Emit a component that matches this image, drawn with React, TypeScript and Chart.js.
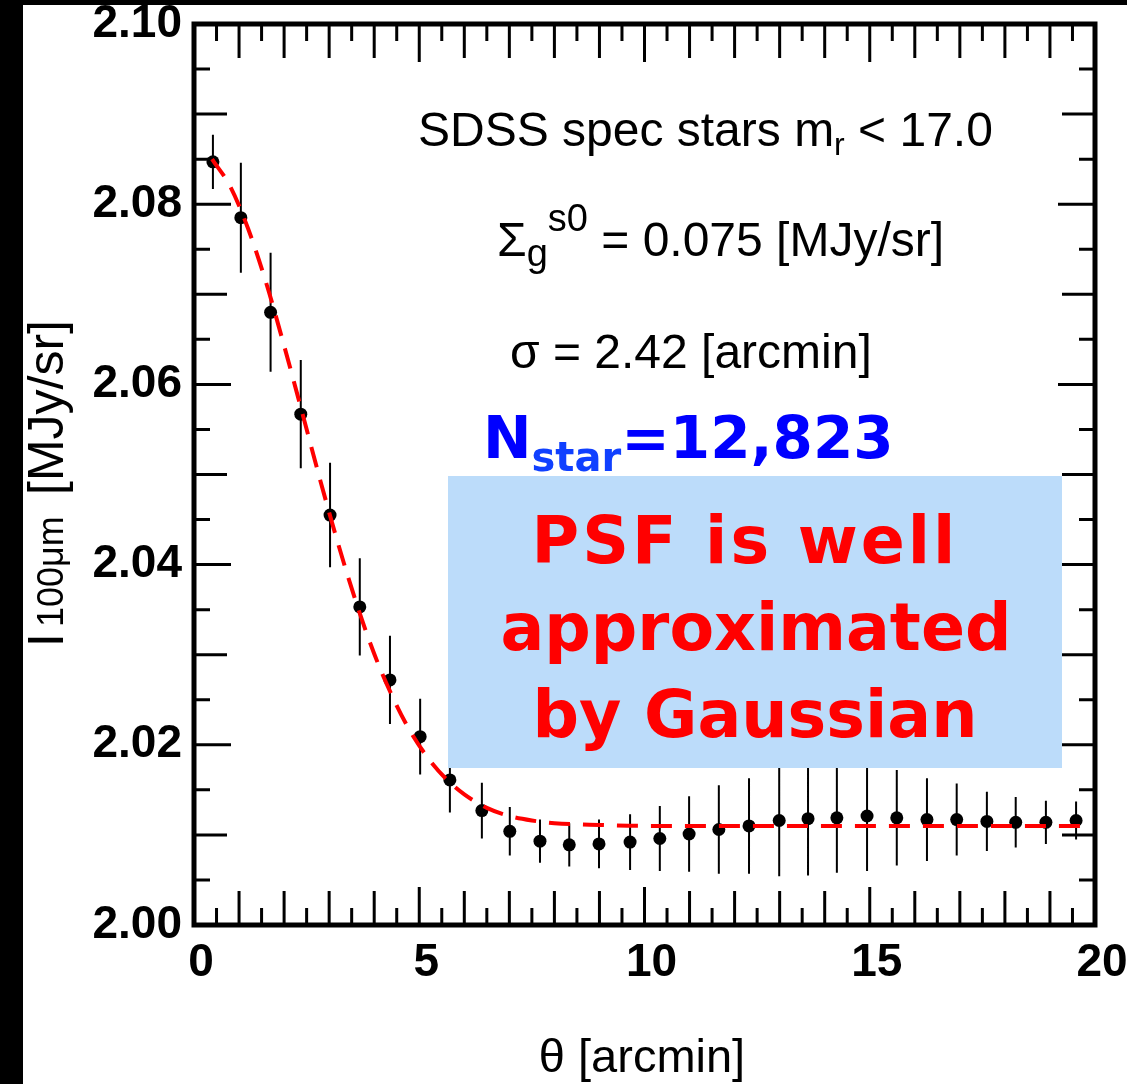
import React, { useEffect, useRef } from "react";
import { Chart, registerables } from "chart.js";

Chart.register(...registerables);

// theta [arcmin] of each bin
const thetaValues = [
  0.42, 1.04, 1.7, 2.37, 3.02, 3.68, 4.35, 5.02, 5.68, 6.39,
  7.01, 7.68, 8.33, 8.99, 9.68, 10.34, 10.99, 11.65, 12.32, 12.99,
  13.63, 14.27, 14.94, 15.6, 16.27, 16.93, 17.6, 18.24, 18.91, 19.58,
];
// I_100um [MJy/sr]
const intensityValues = [
  2.0847, 2.0785, 2.068, 2.0567, 2.0455, 2.0353, 2.0272, 2.0209, 2.0161, 2.0127,
  2.0104, 2.0093, 2.0089, 2.009, 2.0092, 2.0096, 2.0101, 2.0106, 2.011, 2.0116,
  2.0118, 2.0119, 2.0121, 2.0119, 2.0117, 2.0117, 2.0115, 2.0114, 2.0114, 2.0116,
];
// error bar half-lengths
const intensityErrors = [
  0.003, 0.0061, 0.0066, 0.006, 0.0058, 0.0054, 0.0049, 0.0042, 0.0036, 0.0031,
  0.0027, 0.0024, 0.0024, 0.0027, 0.0031, 0.0036, 0.0042, 0.0049, 0.0053, 0.0062,
  0.0063, 0.0061, 0.0061, 0.0053, 0.0046, 0.004, 0.0033, 0.0028, 0.0024, 0.0021,
];
// Gaussian fit curve (dashed red)
const fitTheta = [
  0.4, 0.8, 1.2, 1.6, 2.0, 2.4, 2.8, 3.2, 3.6, 4.0, 4.4, 4.8, 5.2, 5.6, 6.0,
  6.5, 7.0, 7.5, 8.0, 9.0, 10.0, 12.0, 14.0, 16.0, 18.0, 19.8,
];
const fitIntensity = [
  2.085, 2.082, 2.0773, 2.0713, 2.0643, 2.0569, 2.0494, 2.0423, 2.0358, 2.0301,
  2.0254, 2.0215, 2.0185, 2.0162, 2.0145, 2.013, 2.0121, 2.0116, 2.0113, 2.0111,
  2.011, 2.011, 2.011, 2.011, 2.011, 2.011,
];
const xTickLabels = ["0", "5", "10", "15", "20"];
const yTickLabels = ["2.00", "2.02", "2.04", "2.06", "2.08", "2.10"];

const HELV = '"Liberation Sans", Arial, Helvetica, sans-serif';
const VERD = '"DejaVu Sans", Verdana, sans-serif';

type Part = { t: string; size: number; dy?: number; bold?: boolean; family?: string; color?: string };

function drawParts(ctx: CanvasRenderingContext2D, x: number, y: number, parts: Part[]) {
  let cx = x;
  for (const p of parts) {
    ctx.font = `${p.bold ? "bold " : ""}${p.size}px ${p.family || HELV}`;
    ctx.fillStyle = p.color || "#000";
    ctx.textAlign = "left";
    ctx.textBaseline = "alphabetic";
    ctx.fillText(p.t, cx, y + (p.dy || 0));
    cx += ctx.measureText(p.t).width;
  }
}

const backgroundPlugin = {
  id: "bg",
  beforeDraw(chart: any) {
    const ctx = chart.ctx;
    ctx.save();
    ctx.fillStyle = "#fff";
    ctx.fillRect(0, 0, chart.width, chart.height);
    ctx.restore();
  },
};

const framePlugin = {
  id: "frame",
  beforeDatasetsDraw(chart: any) {
    const { ctx, chartArea: a, scales } = chart;
    const xs = scales.x;
    const ys = scales.y;
    ctx.save();
    ctx.strokeStyle = "#000";
    ctx.lineWidth = 3;
    ctx.beginPath();
    for (let i = 1; i < 40; i++) {
      const v = i * 0.5;
      const len = i % 10 === 0 ? 38 : i % 2 === 0 ? 34 : 17;
      const px = xs.getPixelForValue(v);
      ctx.moveTo(px, a.bottom);
      ctx.lineTo(px, a.bottom - len);
      ctx.moveTo(px, a.top);
      ctx.lineTo(px, a.top + len);
    }
    for (let i = 1; i < 20; i++) {
      const v = 2.0 + i * 0.005;
      const len = i % 4 === 0 ? 37 : i % 2 === 0 ? 33 : 16;
      const py = ys.getPixelForValue(v);
      ctx.moveTo(a.left, py);
      ctx.lineTo(a.left + len, py);
      ctx.moveTo(a.right, py);
      ctx.lineTo(a.right - len, py);
    }
    ctx.stroke();
    ctx.lineWidth = 5;
    ctx.strokeRect(a.left, a.top, a.right - a.left, a.bottom - a.top);
    ctx.restore();

    // error bars
    ctx.save();
    ctx.strokeStyle = "#000";
    ctx.lineWidth = 2;
    ctx.beginPath();
    thetaValues.forEach((t, i) => {
      const px = xs.getPixelForValue(t);
      ctx.moveTo(px, ys.getPixelForValue(intensityValues[i] + intensityErrors[i]));
      ctx.lineTo(px, ys.getPixelForValue(intensityValues[i] - intensityErrors[i]));
    });
    ctx.stroke();
    ctx.restore();
  },
};

const annotationPlugin = {
  id: "annot",
  afterDraw(chart: any) {
    const ctx = chart.ctx as CanvasRenderingContext2D;
    ctx.save();
    // text annotations
    drawParts(ctx, 418, 146, [
      { t: "SDSS spec stars m", size: 48 },
      { t: "r", size: 32, dy: 9 },
      { t: " < 17.0", size: 48 },
    ]);
    drawParts(ctx, 497, 256, [
      { t: "\u03A3", size: 48 },
      { t: "g", size: 38, dy: 10 },
      { t: "s0", size: 38, dy: -25 },
      { t: " = 0.075 [MJy/sr]", size: 48 },
    ]);
    drawParts(ctx, 510, 368, [{ t: "\u03C3 = 2.42 [arcmin]", size: 48 }]);
    drawParts(ctx, 483, 458, [
      { t: "N", size: 58, bold: true, family: VERD, color: "#0000ff" },
      { t: "star", size: 40, bold: true, family: VERD, color: "#1040ff", dy: 13 },
      { t: "=12,823", size: 58, bold: true, family: VERD, color: "#0000ff" },
    ]);

    // box
    ctx.fillStyle = "#bcdcfa";
    ctx.fillRect(448, 476, 614, 292);
    ctx.fillStyle = "#ff0000";
    ctx.font = `bold 65px ${VERD}`;
    ctx.textAlign = "center";
    ctx.textBaseline = "alphabetic";
    (ctx as any).letterSpacing = "3px";
    ctx.fillText("PSF is well", 745, 563);
    (ctx as any).letterSpacing = "0px";
    ctx.fillText("approximated", 756, 650);
    ctx.fillText("by Gaussian", 755, 737);

    // x title
    ctx.fillStyle = "#000";
    ctx.font = `47px ${HELV}`;
    ctx.textAlign = "center";
    ctx.fillText("\u03B8 [arcmin]", 642, 1072);

    // y title (rotated)
    ctx.save();
    ctx.translate(63, 647);
    ctx.rotate(-Math.PI / 2);
    ctx.textAlign = "left";
    ctx.font = `50px ${HELV}`;
    ctx.fillText("I", 0, 0);
    ctx.font = `36px ${HELV}`;
    ctx.fillText("100\u03BCm", 20, 0);
    ctx.textAlign = "right";
    ctx.font = `50px ${HELV}`;
    ctx.fillText("[MJy/sr]", 327, 0);
    ctx.restore();

    // black borders of the slide
    ctx.fillStyle = "#000";
    ctx.fillRect(0, 0, 23, chart.height);
    ctx.fillRect(0, 0, chart.width, 5);
    ctx.restore();
  },
};

export default function App() {
  const ref = useRef<HTMLCanvasElement | null>(null);
  useEffect(() => {
    if (!ref.current) return;
    const chart = new Chart(ref.current, {
      type: "scatter",
      data: {
        datasets: [
          {
            type: "line",
            label: "Gaussian fit",
            data: fitTheta.map((x, i) => ({ x, y: fitIntensity[i] })),
            borderColor: "#ff0000",
            borderWidth: 4,
            borderDash: [21, 13],
            pointRadius: 0,
            fill: false,
            cubicInterpolationMode: "monotone",
            order: 0,
          } as any,
          {
            label: "stars",
            data: thetaValues.map((x, i) => ({ x, y: intensityValues[i] })),
            backgroundColor: "#000",
            borderColor: "#000",
            pointRadius: 6.5,
            borderWidth: 0,
            order: 1,
          },
        ],
      },
      options: {
        animation: false,
        responsive: false,
        devicePixelRatio: 1,
        layout: { padding: { top: 24, right: 32, left: 0, bottom: 0 } },
        plugins: { legend: { display: false }, tooltip: { enabled: false } },
        scales: {
          x: {
            type: "linear",
            min: 0,
            max: 20,
            grid: { display: false, drawTicks: false },
            border: { display: false },
            ticks: {
              stepSize: 5,
              autoSkip: false,
              maxRotation: 0,
              padding: 11,
              labelOffset: 7,
              color: "#000",
              font: { family: HELV, size: 46, weight: "bold" },
              callback: (v: any) => {
                const idx = Math.round(Number(v) / 5);
                return xTickLabels[idx] ?? "";
              },
            },
            afterFit: (s: any) => {
              s.height = 159;
              s.paddingLeft = 0;
              s.paddingRight = 0;
            },
          },
          y: {
            type: "linear",
            min: 2.0,
            max: 2.1,
            grid: { display: false, drawTicks: false },
            border: { display: false },
            ticks: {
              stepSize: 0.02,
              autoSkip: false,
              padding: 12,
              color: "#000",
              font: { family: HELV, size: 46, weight: "bold", lineHeight: 0.4 },
              callback: (v: any) => {
                const idx = Math.round((Number(v) - 2.0) / 0.02);
                return yTickLabels[idx] ?? "";
              },
            },
            afterFit: (s: any) => {
              s.width = 194;
              s.paddingTop = 0;
              s.paddingBottom = 0;
            },
          },
        },
      } as any,
      plugins: [backgroundPlugin, framePlugin, annotationPlugin],
    });
    return () => chart.destroy();
  }, []);
  return (
    <div style={{ position: "absolute", left: 0, top: 0, width: 1127, height: 1084 }}>
      <canvas ref={ref} width={1127} height={1084} style={{ display: "block", width: 1127, height: 1084 }} />
    </div>
  );
}
